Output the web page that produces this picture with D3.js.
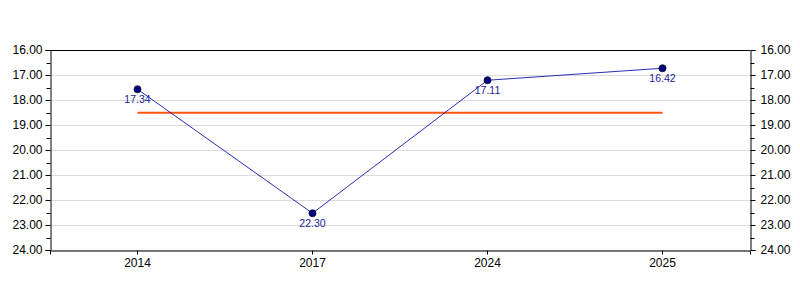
<!DOCTYPE html>
<html>
<head>
<meta charset="utf-8">
<script src="https://cdn.jsdelivr.net/npm/d3@7"></script>
<style>
  body { margin: 0; background: #fff; }
  text { font-family: "Liberation Sans", Arial, sans-serif; }
</style>
</head>
<body>
<div id="chart"></div>
<script>
var years = ["2014", "2017", "2024", "2025"];
var values = [17.57, 22.53, 17.21, 16.73];
var valueLabels = ["17.34", "22.30", "17.11", "16.42"];
var average = 18.51;
var yTicks = [16, 17, 18, 19, 20, 21, 22, 23, 24];
var yMinorTicks = [16.5, 17.5, 18.5, 19.5, 20.5, 21.5, 22.5, 23.5];

var margin = {top: 50, right: 50, bottom: 50, left: 50},
    width = 800 - margin.left - margin.right,
    height = 300 - margin.top - margin.bottom;

var svg = d3.select("#chart").append("svg")
    .attr("width", 800)
    .attr("height", 300)
    .append("g")
    .attr("transform", "translate(" + margin.left + "," + margin.top + ")");

var x = d3.scaleBand()
    .domain(years)
    .range([0, width]);

var y = d3.scaleLinear()
    .domain([16, 24])
    .range([0, height]);

var fmt = d3.format(".2f");

// grid
svg.selectAll(".grid")
    .data(yTicks)
    .enter().append("line")
    .attr("x1", 0)
    .attr("x2", width)
    .attr("y1", function (d) { return y(d) + 0.5; })
    .attr("y2", function (d) { return y(d) + 0.5; })
    .attr("stroke", "#dcdcdc");

// minor ticks
function minor(g, side) {
    g.selectAll(".minor")
        .data(yMinorTicks)
        .enter().append("line")
        .attr("x1", 0)
        .attr("x2", side * 4)
        .attr("y1", function (d) { return Math.round(y(d)) + 0.5; })
        .attr("y2", function (d) { return Math.round(y(d)) + 0.5; })
        .attr("stroke", "#000");
}

var left = svg.append("g")
    .attr("transform", "translate(0.5,0)")
    .call(d3.axisLeft(y).tickValues(yTicks).tickFormat(fmt).tickSize(5).tickPadding(3));
minor(left, -1);

var right = svg.append("g")
    .attr("transform", "translate(" + (width + 0.5) + ",0)")
    .call(d3.axisRight(y).tickValues(yTicks).tickFormat(fmt).tickSize(5).tickPadding(5));
minor(right, 1);

svg.append("g")
    .attr("transform", "translate(0," + (height + 0.5) + ")")
    .call(d3.axisBottom(x).tickSize(4).tickPadding(4));

svg.selectAll(".domain").attr("stroke", "#000");
svg.selectAll(".tick text").attr("font-size", 12).attr("fill", "#000")
    .attr("font-family", "Liberation Sans, Arial, sans-serif");

// top border
svg.append("line")
    .attr("x1", 0)
    .attr("x2", width)
    .attr("y1", 0.5)
    .attr("y2", 0.5)
    .attr("stroke", "#000");

var cx = function (i) { return x(years[i]) + x.bandwidth() / 2; };

// average line
svg.append("line")
    .attr("x1", cx(0))
    .attr("x2", cx(years.length - 1))
    .attr("y1", y(average))
    .attr("y2", y(average))
    .attr("stroke", "#ff5511")
    .attr("stroke-width", 2);

var line = d3.line()
    .x(function (d, i) { return cx(i); })
    .y(function (d) { return y(d); });

svg.append("path")
    .datum(values)
    .attr("d", line)
    .attr("fill", "none")
    .attr("stroke", "#1515aa")
    .attr("stroke-width", 0.9);

svg.selectAll(".dot")
    .data(values)
    .enter().append("circle")
    .attr("cx", function (d, i) { return cx(i); })
    .attr("cy", function (d) { return y(d); })
    .attr("r", 3.5)
    .attr("fill", "#000080")
    .attr("stroke", "#000033")
    .attr("stroke-width", 0.8);

svg.selectAll(".label")
    .data(values)
    .enter().append("text")
    .attr("x", function (d, i) { return cx(i); })
    .attr("y", function (d) { return y(d) + 14; })
    .attr("text-anchor", "middle")
    .attr("font-size", 10.5)
    .attr("fill", "#1a1a99")
    .text(function (d, i) { return valueLabels[i]; });
</script>
</body>
</html>
